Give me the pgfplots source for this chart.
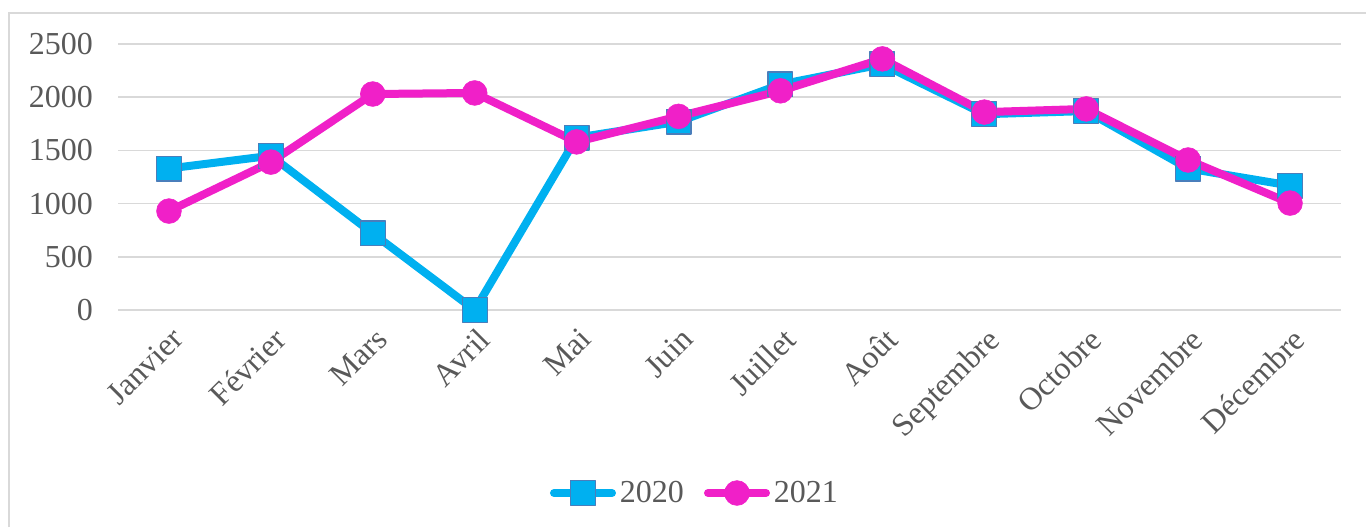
\documentclass[border=0pt]{standalone}
\usepackage{fontspec}
\setmainfont{Liberation Serif}
\usepackage{pgfplots}
\pgfplotsset{compat=1.18}
\definecolor{cyanS}{HTML}{00B0F0}
\definecolor{magS}{HTML}{F020C8}
\definecolor{edgeS}{HTML}{4A7EBB}
\definecolor{txt}{HTML}{595959}
\definecolor{gridc}{HTML}{D9D9D9}
\begin{document}
\begin{tikzpicture}
\useasboundingbox (0,0) rectangle (683pt,-263.5pt);
\draw[gridc, line width=0.75pt] (4.5pt,-263.5pt) -- (4.5pt,-6.5pt) -- (683pt,-6.5pt);
\begin{axis}[
  at={(59pt,-155pt)}, anchor=south west,
  scale only axis, width=611.5pt, height=133pt,
  xmin=-0.5, xmax=11.5, ymin=0, ymax=2500,
  xtick={0,...,11},
  xticklabels={Janvier,Février,Mars,Avril,Mai,Juin,Juillet,Août,Septembre,Octobre,Novembre,Décembre},
  ytick={0,500,...,2500},
  xmajorgrids=false,
  ymajorgrids=true, grid style={draw=gridc, line width=0.75pt},
  axis line style={draw=none},
  major tick length=0pt,
  tick label style={font=\fontsize{16}{19}\selectfont, text=txt},
  /pgf/number format/assume math mode=true,
  /pgf/number format/1000 sep={},
  yticklabel style={anchor=east, xshift=-9pt},
  xticklabel style={xshift=0.6pt, yshift=-3.2pt, rotate=45, anchor=north east},
  legend style={at={(0.4726,-0.688)}, anchor=center, draw=none, fill=none,
    legend columns=2, font=\fontsize{16}{19}\selectfont, text=txt,
    /tikz/every even column/.append style={column sep=8pt}},
  legend cell align=left,
  legend image code/.code={\draw[mark repeat=2,mark phase=2,#1] plot coordinates {(0pt,0pt) (14.5pt,0pt) (29pt,0pt)};},
]
\addplot[cyanS, line width=4pt, line cap=round, line join=round, mark=square*, mark size=6.2pt,
  mark options={fill=cyanS, draw=edgeS, line width=0.6pt}]
  coordinates {(0,1330) (1,1450) (2,720) (3,0) (4,1620) (5,1770) (6,2120) (7,2310) (8,1840) (9,1870) (10,1330) (11,1170)};
\addlegendentry{2020}
\addplot[magS, line width=4pt, line cap=round, line join=round, mark=*, mark size=6.2pt,
  mark options={fill=magS, draw=magS, line width=0.3pt}]
  coordinates {(0,930) (1,1390) (2,2030) (3,2040) (4,1580) (5,1820) (6,2060) (7,2360) (8,1860) (9,1890) (10,1410) (11,1005)};
\addlegendentry{2021}
\end{axis}
\end{tikzpicture}
\end{document}
